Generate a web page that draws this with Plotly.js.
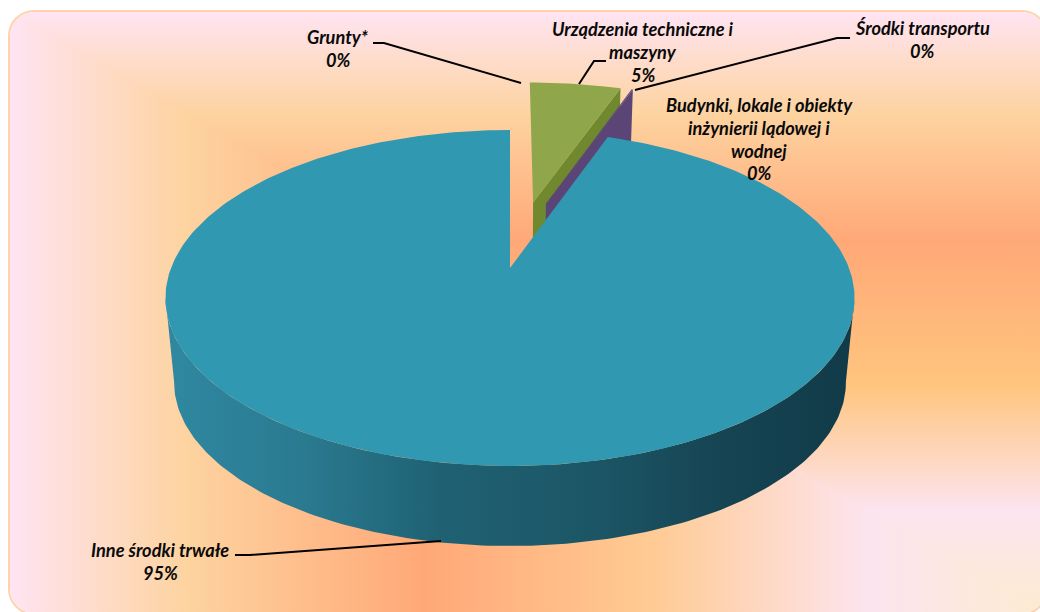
<!DOCTYPE html>
<html><head><meta charset="utf-8">
<script src="https://cdn.plot.ly/plotly-3.0.1.min.js"></script>
<style>
html,body{margin:0;padding:0;background:#fff;overflow:hidden;width:1040px;height:612px}
#frame{position:absolute;left:8px;top:10px;width:1040px;height:605px;box-sizing:border-box;border:2px solid #FFD2AB;border-radius:26px;overflow:hidden}
.bg{position:absolute;left:0;top:0;width:100%;height:100%}
#bgx{background:linear-gradient(to left,#FDEBD0 0%,#FCE4EF 17%,#FFCB94 38%,#FFA877 60%,#FDD3A0 83%,#FFE4F2 100%)}
#bgy{clip-path:polygon(0 0,100% 0,100% 100%);background:linear-gradient(to top,#FDEBD0 0%,#FCE4EF 17%,#FFC57E 38%,#FFA877 62%,#FDD3A0 83%,#FFE4F2 100%)}
#chart{position:absolute;left:0;top:0;width:1040px;height:612px}
</style></head><body>
<div id="frame"><div id="bgx" class="bg"></div><div id="bgy" class="bg"></div></div>
<div id="chart"></div>
<script>
// Data
const categories = ['Grunty*', 'Urządzenia techniczne i maszyny', 'Środki transportu', 'Budynki, lokale i obiekty inżynierii lądowej i wodnej', 'Inne środki trwałe'];
const shares = [0, 5.4, 0, 0.07, 94.53];
const shownPercent = ['0%', '5%', '0%', '0%', '95%'];
const topColors = ['#8FA64A', '#8FA64A', '#5D4A7D', '#5D4A7D', '#3098B0'];
const cutColors = ['#70892F', '#70892F', '#5B4577', '#5B4577', '#1D5566'];

// Projection of the tilted disc onto the page
const K = 0.1786, CX = 510, B = 339, TOPY = 268, A = 162.6, BOTY = 353, S = 0.975;
const explodeRadius = [0.44, 0.44, 0.44, 0.44, 0];
const explodeDir = [0, 9.6, 0, 15, 0];
function upper(u, v) { const w = 1 + K * v; return [CX + B * u / w, TOPY - A * v / w]; }
function lower(u, v) { const w = 1 + K * v; return [CX + S * B * u / w, BOTY - S * A * v / w]; }
const rad = d => d * Math.PI / 180;

const traces = [];
function poly(pts, color, name, extra) {
  traces.push(Object.assign({
    type: 'scatter', mode: 'lines', x: pts.map(p => p[0]), y: pts.map(p => p[1]),
    fill: 'toself', fillcolor: color, line: { width: 0, color: color },
    name: name, hoverinfo: 'text', hoveron: 'fills', text: name, showlegend: false
  }, extra || {}));
}

// Angles from the data
let acc = 0;
const spans = shares.map(v => { const a = acc; acc += v * 3.6; return [a, acc]; });

function drawSlice(i, withOuterWall) {
  const [a0, a1] = spans[i];
  if (a1 - a0 <= 0) return;
  const ox = explodeRadius[i] * Math.sin(rad(explodeDir[i]));
  const oy = explodeRadius[i] * Math.cos(rad(explodeDir[i]));
  const label = categories[i] + ': ' + shownPercent[i];
  const e = [Math.sin(rad(a1)) + ox, Math.cos(rad(a1)) + oy];
  if (!withOuterWall) {
    poly([upper(ox, oy), upper(e[0], e[1]), lower(e[0], e[1]), lower(ox, oy)], cutColors[i], label);
  }
  const face = [upper(ox, oy)];
  for (let a = a0; a < a1; a += 1) face.push(upper(Math.sin(rad(a)) + ox, Math.cos(rad(a)) + oy));
  face.push(upper(e[0], e[1]));
  if (withOuterWall) {
    const wallTop = [], wallBot = [];
    for (let a = 100; a <= 260; a += 1) {
      wallTop.push(upper(Math.sin(rad(a)), Math.cos(rad(a))));
      wallBot.push(lower(Math.sin(rad(a)), Math.cos(rad(a))));
    }
    poly(wallTop.concat(wallBot.reverse()), cutColors[i], label, {
      fillgradient: { type: 'horizontal', colorscale: [[0, '#2F88A1'], [0.2, '#2A7A90'], [0.4, '#1F6173'], [0.62, '#1C5666'], [0.8, '#164554'], [1, '#113A48']] }
    });
  }
  poly(face, topColors[i], label);
}
[1, 3, 4].forEach(i => drawSlice(i, i === 4));

// Leader lines
const leaders = [
  { x: [373, 384, 521], y: [43, 43, 83] },
  { x: [606, 594, 579], y: [61, 61, 84] },
  { x: [850, 837, 635], y: [38, 38, 90] },
  { x: [235, 250, 441], y: [555, 555, 541] }
];
leaders.forEach(l => traces.push({ type: 'scatter', mode: 'lines', x: l.x, y: l.y, line: { color: '#000', width: 2 }, hoverinfo: 'skip', showlegend: false }));

// Labels, one annotation per line
const labelLines = [
  { x: 338, y: 37, lines: ['Grunty*', shownPercent[0]] },
  { x: 643, y: 29, lines: ['Urządzenia techniczne i', 'maszyny', shownPercent[1]] },
  { x: 922, y: 28, lines: ['Środki transportu', shownPercent[2]] },
  { x: 759, y: 105, lines: ['Budynki, lokale i obiekty', 'inżynierii lądowej i', 'wodnej', shownPercent[3]] },
  { x: 160, y: 550, lines: ['Inne środki trwałe', shownPercent[4]] }
];
const annotations = [];
labelLines.forEach(l => l.lines.forEach((t, k) => annotations.push({
  x: l.x, y: l.y + k * 22.8, xref: 'x', yref: 'y', text: '<b><i>' + t + '</i></b>', showarrow: false,
  xanchor: 'center', yanchor: 'middle', font: { family: 'Lato, sans-serif', size: 18.2, color: '#0a0a0a' }
})));

Plotly.newPlot('chart', traces, {
  width: 1040, height: 612, margin: { l: 0, r: 0, t: 0, b: 0 },
  paper_bgcolor: 'rgba(0,0,0,0)', plot_bgcolor: 'rgba(0,0,0,0)', showlegend: false,
  xaxis: { range: [0, 1040], visible: false, fixedrange: true },
  yaxis: { range: [612, 0], visible: false, fixedrange: true },
  annotations: annotations
}, { displayModeBar: false, responsive: false });
</script></body></html>
